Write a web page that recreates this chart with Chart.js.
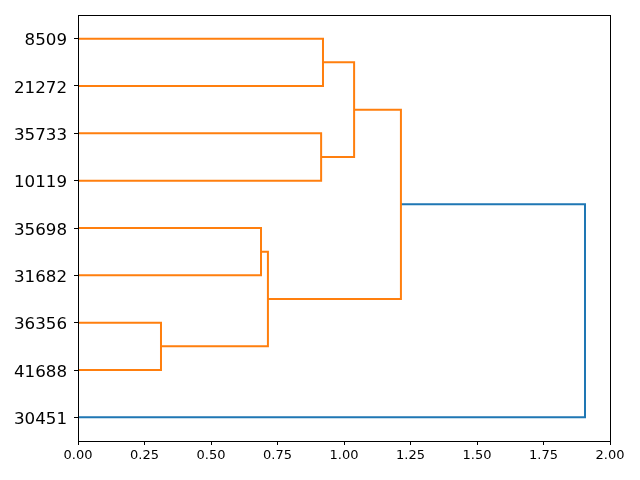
<!DOCTYPE html>
<html>
<head>
<meta charset="utf-8">
<script src="https://cdn.jsdelivr.net/npm/chart.js@4"></script>
<style>
  html, body { margin: 0; padding: 0; background: #fff; }
  #wrap { width: 640px; height: 480px; }
</style>
</head>
<body>
<div id="wrap"><canvas id="dendro"></canvas></div>
<script>
// leaves from bottom to top (scipy positions 5, 15, ... 85)
const leafLabels = ['30451', '41688', '36356', '31682', '35698', '10119', '35733', '21272', '8509'];
const leafPositions = [5, 15, 25, 35, 45, 55, 65, 75, 85];

// one U-shaped link per entry, same as scipy's icoord / dcoord
const icoord = [
  [15, 15, 25, 25],
  [35, 35, 45, 45],
  [20, 20, 40, 40],
  [55, 55, 65, 65],
  [75, 75, 85, 85],
  [60, 60, 80, 80],
  [30, 30, 70, 70],
  [5, 5, 50, 50]
];
const dcoord = [
  [0, 0.312, 0.312, 0],
  [0, 0.688, 0.688, 0],
  [0.312, 0.714, 0.714, 0.688],
  [0, 0.914, 0.914, 0],
  [0, 0.921, 0.921, 0],
  [0.914, 1.038, 1.038, 0.921],
  [0.714, 1.214, 1.214, 1.038],
  [0, 1.906, 1.906, 1.214]
];
const linkColors = ['#ff7f0e', '#ff7f0e', '#ff7f0e', '#ff7f0e', '#ff7f0e', '#ff7f0e', '#ff7f0e', '#1f77b4'];

const xTicks = [0, 0.25, 0.5, 0.75, 1.0, 1.25, 1.5, 1.75, 2.0];

const datasets = icoord.map((ic, i) => ({
  data: ic.map((y, j) => ({ x: dcoord[i][j], y: y })),
  borderColor: linkColors[i],
  borderWidth: 2,
  showLine: true,
  pointRadius: 0,
  fill: false,
  tension: 0
}));

// matplotlib draws all four spines
const frame = {
  id: 'frame',
  afterDraw(chart) {
    const a = chart.chartArea;
    const ctx = chart.ctx;
    ctx.save();
    ctx.strokeStyle = '#000';
    ctx.lineWidth = 1;
    ctx.strokeRect(Math.round(a.left) + 0.5, Math.round(a.top) + 0.5,
      Math.round(a.right - a.left), Math.round(a.bottom - a.top));
    ctx.restore();
  }
};

// leaf labels sit on the baseline like matplotlib's center_baseline
const leafText = {
  id: 'leafText',
  afterDraw(chart) {
    const y = chart.scales.y;
    const ctx = chart.ctx;
    ctx.save();
    ctx.fillStyle = '#000';
    ctx.font = '16.7px "DejaVu Sans"';
    ctx.textAlign = 'right';
    ctx.textBaseline = 'alphabetic';
    leafPositions.forEach((p, i) => {
      ctx.fillText(leafLabels[i], chart.chartArea.left - 11, y.getPixelForValue(p) + 6.5);
    });
    ctx.restore();
  }
};

new Chart(document.getElementById('dendro'), {
  type: 'scatter',
  data: { datasets },
  plugins: [frame, leafText],
  options: {
    responsive: true,
    maintainAspectRatio: false,
    animation: false,
    layout: { padding: { top: 15, right: 30, left: 0, bottom: 0 } },
    plugins: {
      legend: { display: false },
      tooltip: { enabled: false }
    },
    scales: {
      x: {
        type: 'linear',
        min: 0,
        max: 2,
        afterBuildTicks: (scale) => { scale.ticks = xTicks.map(v => ({ value: v })); },
        afterFit: (scale) => { scale.height = 39; },
        grid: { drawOnChartArea: false, tickLength: 4, color: '#000' },
        border: { display: true, color: '#000' },
        ticks: {
          color: '#000',
          font: { family: 'DejaVu Sans', size: 13 },
          padding: 3,
          maxRotation: 0,
          callback: (v) => v.toFixed(2)
        }
      },
      y: {
        type: 'linear',
        min: 0,
        max: 90,
        afterBuildTicks: (scale) => { scale.ticks = leafPositions.map(v => ({ value: v })); },
        afterFit: (scale) => { scale.width = 78; },
        grid: { drawOnChartArea: false, tickLength: 4, color: '#000' },
        border: { display: true, color: '#000' },
        ticks: { display: false }
      }
    }
  }
});
</script>
</body>
</html>
